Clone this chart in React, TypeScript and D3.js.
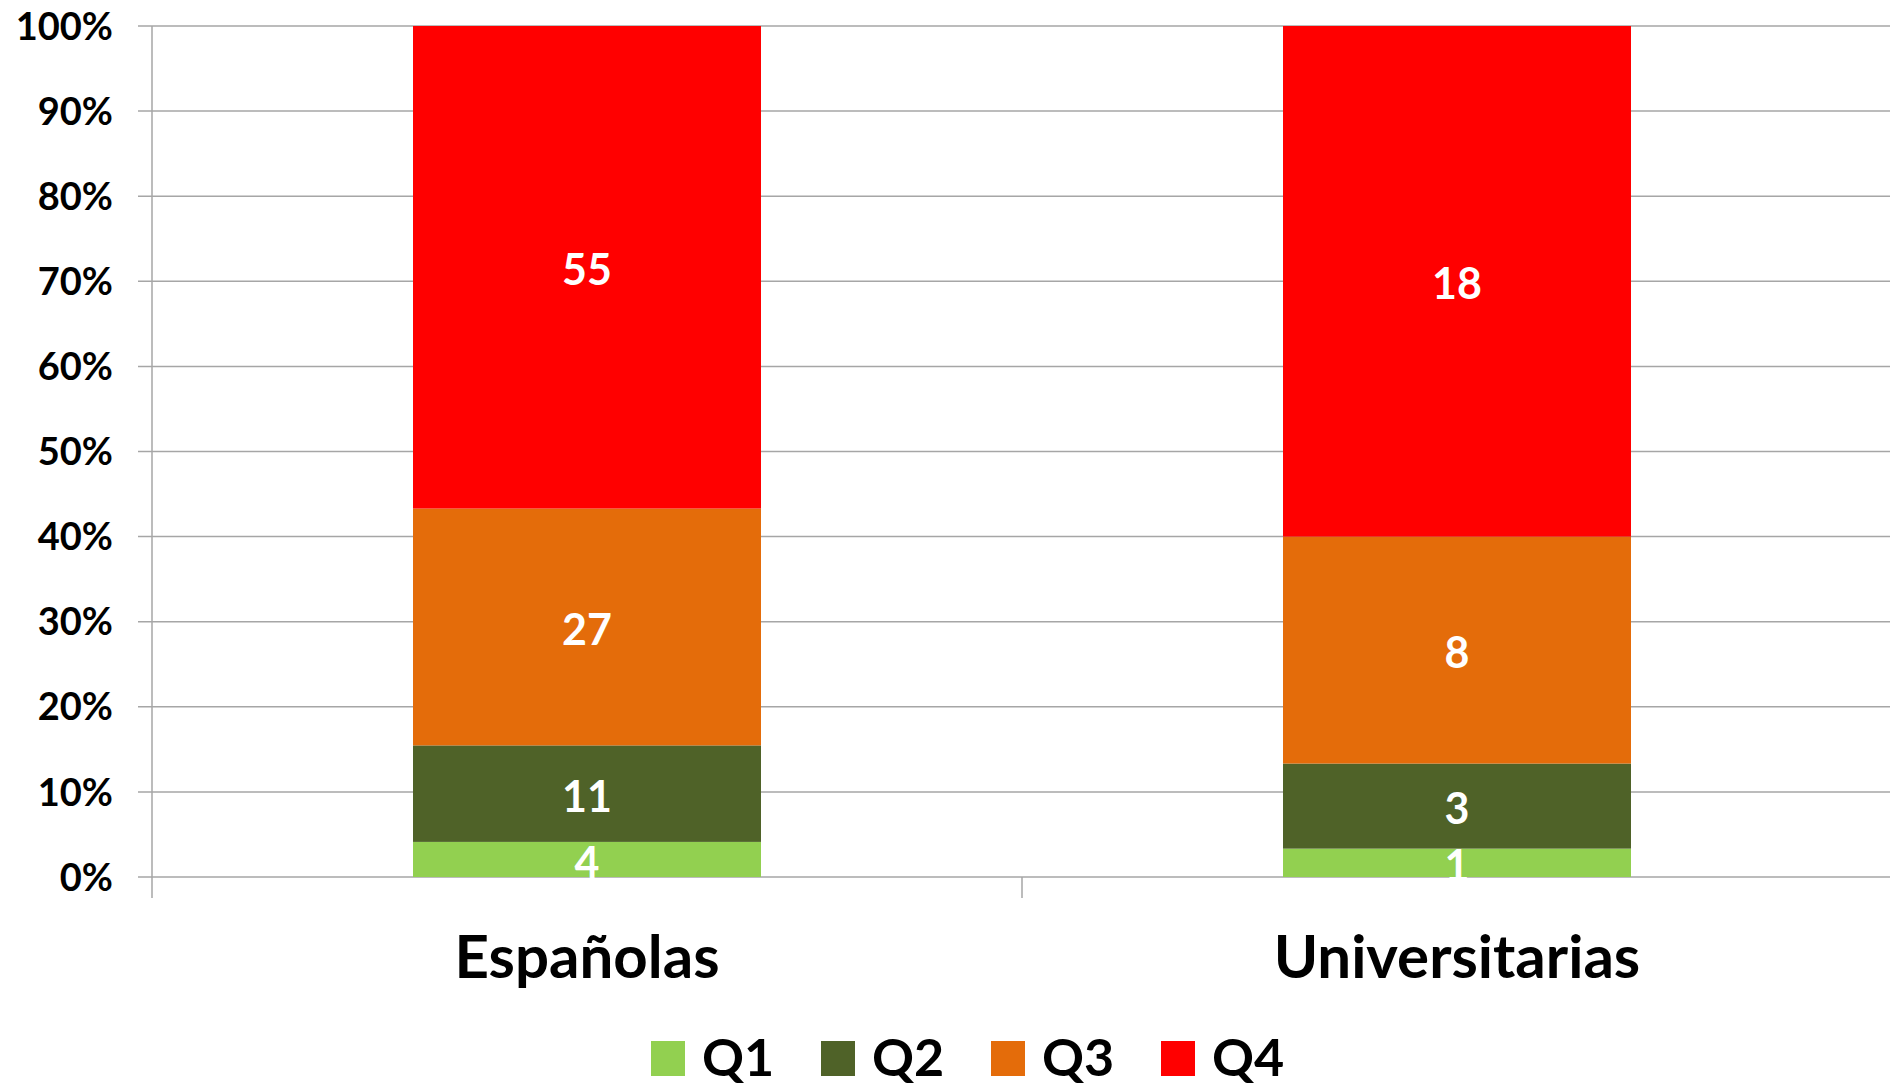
import * as d3 from 'd3';

const categories = ['Españolas', 'Universitarias'];
const seriesNames = ['Q1', 'Q2', 'Q3', 'Q4'];
const seriesColors = ['#92D050', '#4F6228', '#E46C0A', '#FF0000'];
const q1 = [4, 1];
const q2 = [11, 3];
const q3 = [27, 8];
const q4 = [55, 18];
const yTicks = [0, 0.1, 0.2, 0.3, 0.4, 0.5, 0.6, 0.7, 0.8, 0.9, 1];

const width = 1890;
const height = 1086;
const margins = {top: 26, right: -2, bottom: 209, left: 152};
const font = 'Lato, "Open Sans", sans-serif';

export default function App() {
    const rows = categories.map((c, i) => ({
        cat: c,
        Q1: q1[i],
        Q2: q2[i],
        Q3: q3[i],
        Q4: q4[i],
    }));

    const stack = d3
        .stack<any>()
        .keys(seriesNames)
        .offset(d3.stackOffsetExpand);
    const stacked = stack(rows);

    const xScale = d3
        .scaleBand<string>()
        .domain(categories)
        .range([margins.left, width - margins.right])
        .paddingInner(0.6)
        .paddingOuter(0.3);

    const yScale = d3
        .scaleLinear()
        .domain([0, 1])
        .range([height - margins.bottom, margins.top]);

    const step = xScale.step();
    const bounds = [margins.left, margins.left + step, margins.left + 2 * step];
    const y0 = yScale(0);

    return (
        <svg
            width={width}
            height={height}
            style={{position: 'absolute', left: 0, top: 0, background: '#fff'}}
            fontFamily={font}
        >
            {/* gridlines */}
            {yTicks.map((t) => (
                <line
                    key={t}
                    x1={margins.left - 14}
                    x2={width}
                    y1={yScale(t)}
                    y2={yScale(t)}
                    stroke="#A6A6A6"
                    strokeWidth={1.5}
                />
            ))}
            {/* y axis */}
            <line x1={margins.left} x2={margins.left} y1={margins.top} y2={y0 + 21} stroke="#A6A6A6" strokeWidth={1.5} />
            {bounds.slice(1).map((b) => (
                <line key={b} x1={b} x2={b} y1={y0} y2={y0 + 21} stroke="#A6A6A6" strokeWidth={1.5} />
            ))}
            {yTicks.map((t) => (
                <text
                    key={t}
                    x={margins.left - 39}
                    y={yScale(t)}
                    dy="0.36em"
                    textAnchor="end"
                    fontSize={38}
                    fontWeight="bold"
                    fill="#000"
                >
                    {d3.format('.0%')(t)}
                </text>
            ))}

            {/* bars */}
            {stacked.map((s, si) => (
                <g key={s.key} fill={seriesColors[si]}>
                    {s.map((d, i) => (
                        <rect
                            key={i}
                            x={xScale(categories[i])}
                            width={xScale.bandwidth()}
                            y={yScale(d[1])}
                            height={yScale(d[0]) - yScale(d[1])}
                        />
                    ))}
                </g>
            ))}
            {/* data labels */}
            {stacked.map((s) =>
                s.map((d, i) => (
                    <text
                        key={s.key + i}
                        x={(xScale(categories[i]) as number) + xScale.bandwidth() / 2}
                        y={(yScale(d[0]) + yScale(d[1])) / 2}
                        dy="0.42em"
                        textAnchor="middle"
                        fontSize={43}
                        fontWeight="bold"
                        fill="#fff"
                    >
                        {d.data[s.key]}
                    </text>
                )),
            )}

            {/* category labels */}
            {categories.map((c) => (
                <text
                    key={c}
                    x={(xScale(c) as number) + xScale.bandwidth() / 2}
                    y={978}
                    textAnchor="middle"
                    fontSize={60}
                    fontWeight="bold"
                    fill="#000"
                >
                    {c}
                </text>
            ))}

            {/* legend */}
            {seriesNames.map((n, i) => (
                <g key={n} transform={`translate(${651 + i * 170}, 1041)`}>
                    <rect width={34} height={35} fill={seriesColors[i]} />
                    <text x={51} y={35} fontSize={52} fontWeight="bold" fill="#000">
                        {n}
                    </text>
                </g>
            ))}
        </svg>
    );
}
